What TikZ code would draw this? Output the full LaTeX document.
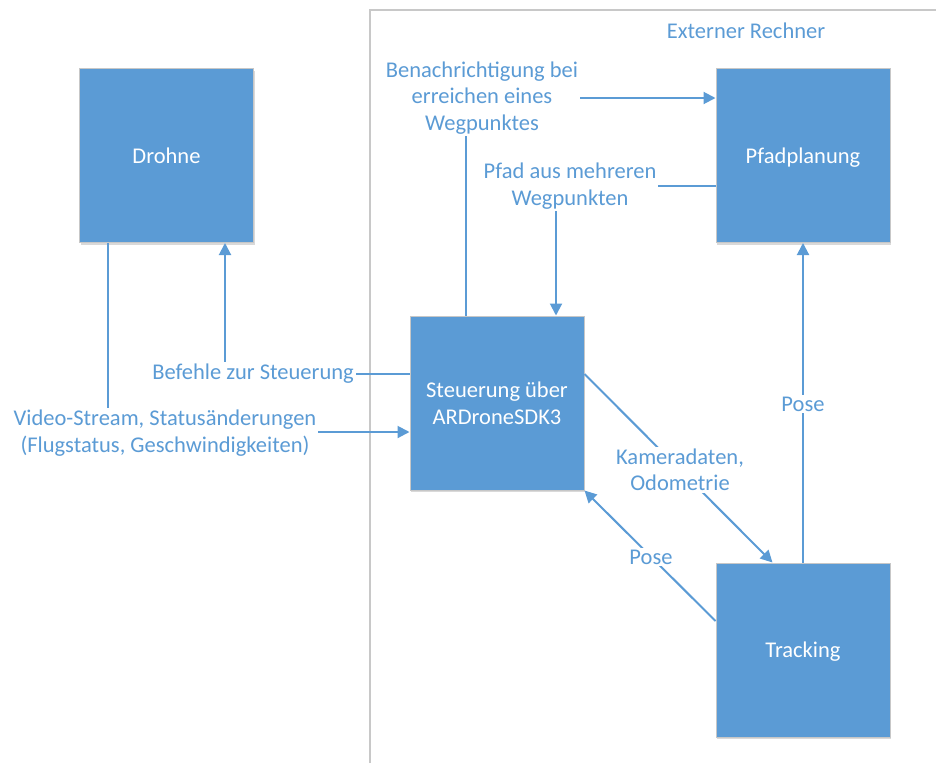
\documentclass[tikz,border=0pt]{standalone}
\usepackage{fontspec}
\setmainfont{Carlito}
\usetikzlibrary{arrows.meta,shadows}
\definecolor{officeblue}{HTML}{5B9BD5}
\definecolor{framegray}{HTML}{C8C8C8}
\begin{document}
\begin{tikzpicture}[x=1pt,y=-1pt,
  block/.style={draw=black!22, line width=1pt, fill=officeblue, text=white,
    minimum width=174pt, minimum height=174pt, inner sep=0pt, align=center,
    text depth=0pt, font=\fontsize{22.5}{27.5}\selectfont,
    drop shadow={shadow xshift=1pt, shadow yshift=-2pt, opacity=0.15, fill=black}},
  lbl/.style={fill=white, text=officeblue, align=center, inner sep=2pt,
    font=\fontsize{22.5}{26.5}\selectfont},
  conn/.style={draw=officeblue, line width=2pt, -{Triangle[length=12pt,width=12pt]}}]
\useasboundingbox (0,0) rectangle (936,763);

% container of the external computer
\draw[framegray, line width=1.5pt] (370,763) -- (370,10) -- (936,10);
\node[text=officeblue, font=\fontsize{22.5}{26.5}\selectfont] (ext) at (746,31) {Externer Rechner};

% components
\node[block] (drohne) at (166.5,155.5) {Drohne};
\node[block] (steuer) at (497,403) {Steuerung über\\ARDroneSDK3};
\node[block] (pfad) at (803,155.5) {Pfadplanung};
\node[block] (track) at (803,650) {Tracking};

% bend points of the routed connectors
\coordinate (k1) at (108,432);
\coordinate (k2) at (225,374);
\coordinate (k3) at (466,98);
\coordinate (k4) at (556,186);

% drone -> control: video stream and status
\draw[conn] (drohne.south -| k1) -- (k1) -- (steuer.west |- k1);
\node[lbl] (lvid) at (165,433) {Video-Stream, Statusänderungen\\(Flugstatus, Geschwindigkeiten)};

% control -> drone: commands
\draw[conn] (steuer.west |- k2) -- (k2) -- (drohne.south -| k2);
\node[lbl] (lcmd) at (253,374) {Befehle zur Steuerung};

% control -> path planning: waypoint reached
\draw[conn] (steuer.north -| k3) -- (k3) -- (pfad.west |- k3);
\node[lbl] (lwp) at (482,98) {Benachrichtigung bei\\erreichen eines\\Wegpunktes};

% path planning -> control: path
\draw[conn] (pfad.west |- k4) -- (k4) -- (steuer.north -| k4);
\node[lbl] (lpath) at (570,186) {Pfad aus mehreren\\Wegpunkten};

% control -> tracking: camera data
\draw[conn] (steuer.east |- k2) -- ([xshift=57pt]track.north west);
\node[lbl] (lcam) at (680,470) {Kameradaten,\\Odometrie};

% tracking -> control: pose
\draw[conn] ([yshift=29pt]track.west) -- (steuer.south east);
\node[lbl] (lpose1) at (651,557) {Pose};

% tracking -> path planning: pose
\draw[conn] (track.north) -- (track.north |- pfad.south);
\node[lbl] (lpose2) at (803,404) {Pose};
\end{tikzpicture}
\end{document}
